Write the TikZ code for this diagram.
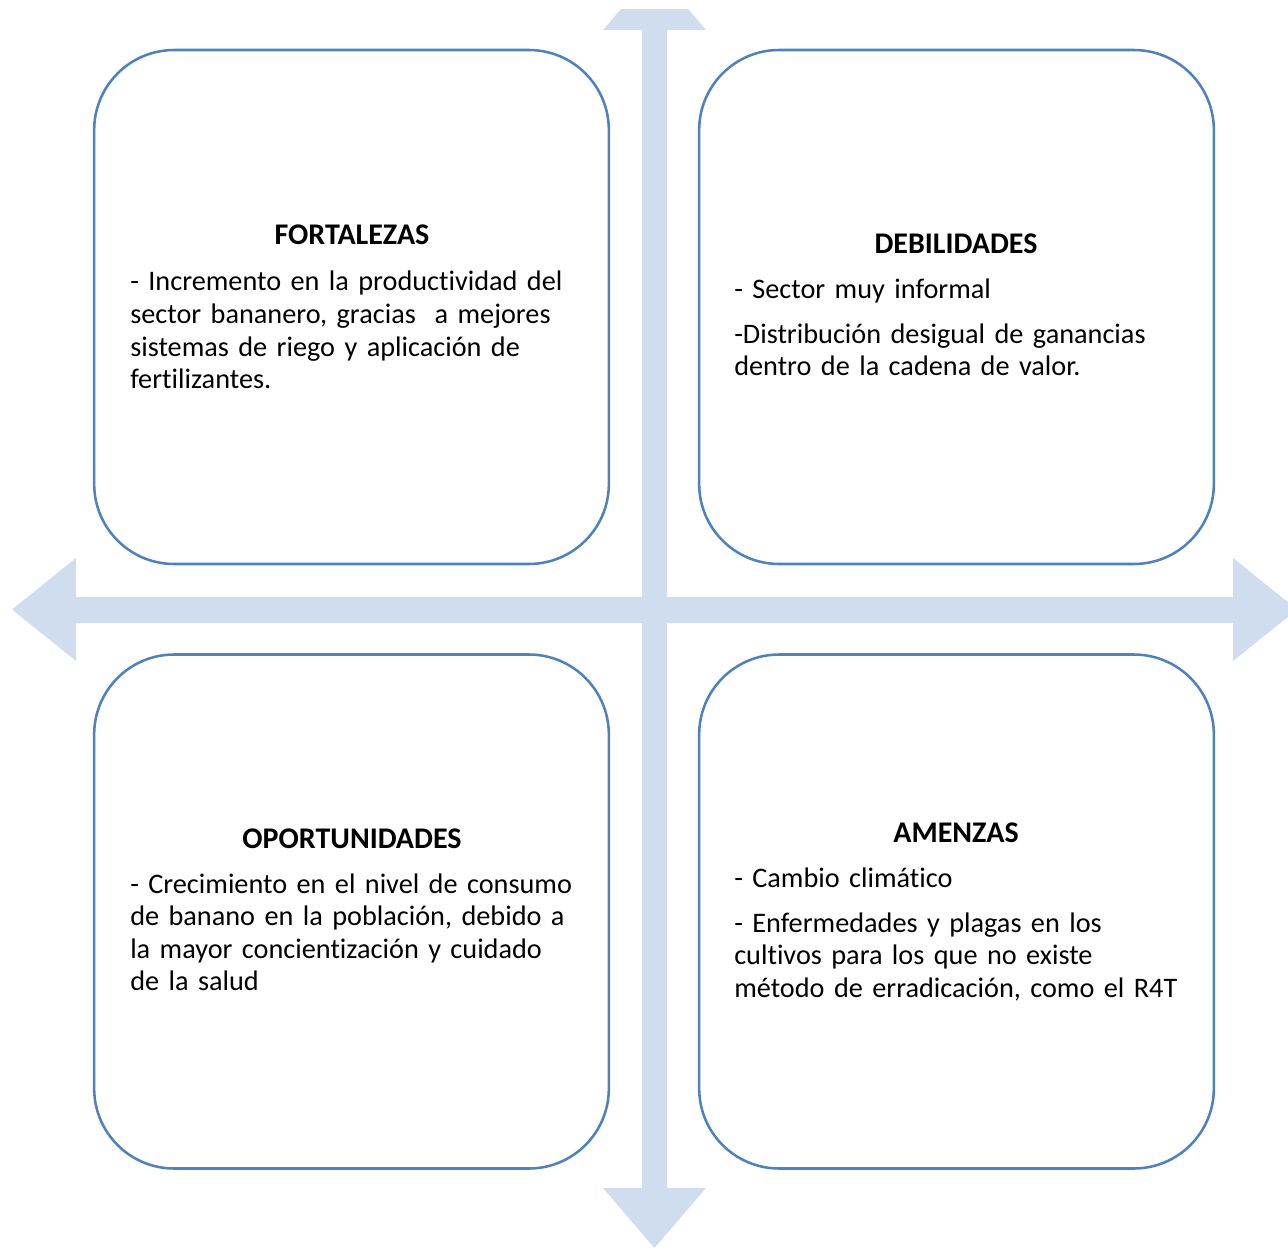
\documentclass[tikz,border=0pt]{standalone}
\usepackage{fontspec}
\setmainfont{Carlito}[Ligatures=NoCommon]
\definecolor{boxblue}{RGB}{79,129,189}
\definecolor{arrowfill}{RGB}{208,221,238}
\begin{document}
\begin{tikzpicture}[x=0.75pt,y=-0.75pt,
  quad/.style={draw=boxblue, line width=1.9pt, rounded corners=60pt,
    minimum width=386pt, minimum height=385.5pt, inner sep=0pt, fill=white},
  title/.style={anchor=base, inner sep=0pt, font=\fontsize{22.5}{24.4}\selectfont\bfseries},
  body/.style={anchor=base west, inner sep=0pt, align=left, text width=360pt,
    font=\fontsize{21.2}{24.4}\selectfont},
  cross/.style={fill=arrowfill, draw=none}]
\useasboundingbox (0,0) rectangle (1288,1248);
% cross arrows
\begin{scope}
\clip (0,10) rectangle (1288,1248);
\fill[cross] (642,1188) -- (642,30) -- (603,30) -- (654.5,-30) -- (706,30) -- (667,30)
  -- (667,1188) -- (706,1188) -- (654.5,1248) -- (603,1188) -- cycle;
\fill[cross] (76,597) -- (1233,597) -- (1233,558) -- (1297,609.5) -- (1233,661) -- (1233,623)
  -- (76,623) -- (76,661) -- (12,609.5) -- (76,558) -- cycle;
\end{scope}
% boxes
\node[quad] (F) at (351.5,307) {};
\node[quad] (D) at (956.5,307) {};
\node[quad] (O) at (351.5,911.5) {};
\node[quad] (A) at (956.5,911.5) {};
% FORTALEZAS
\node[title] (Ft) at (352,245) {FORTALEZAS};
\node[body] (Fb) at (130,291) {- Incremento en la productividad del\\
sector bananero, gracias\ \ a mejores\\
sistemas de riego y aplicación de\\
fertilizantes.};
% DEBILIDADES
\node[title] (Dt) at (956,254) {DEBILIDADES};
\node[body] (Db1) at (734,298) {- Sector muy informal};
\node[body] (Db2) at (734,343) {-Distribución desigual de ganancias\\
dentro de la cadena de valor.};
% OPORTUNIDADES
\node[title] (Ot) at (352,848) {OPORTUNIDADES};
\node[body] (Ob) at (130,893) {- Crecimiento en el nivel de consumo\\
de banano en la población, debido a\\
la mayor concientización y cuidado\\
de la salud};
% AMENZAS
\node[title] (At) at (956,842) {AMENZAS};
\node[body] (Ab1) at (734,887) {- Cambio climático};
\node[body] (Ab2) at (734,932) {- Enfermedades y plagas en los\\
cultivos para los que no existe\\
método de erradicación, como el R4T};
\end{tikzpicture}
\end{document}
